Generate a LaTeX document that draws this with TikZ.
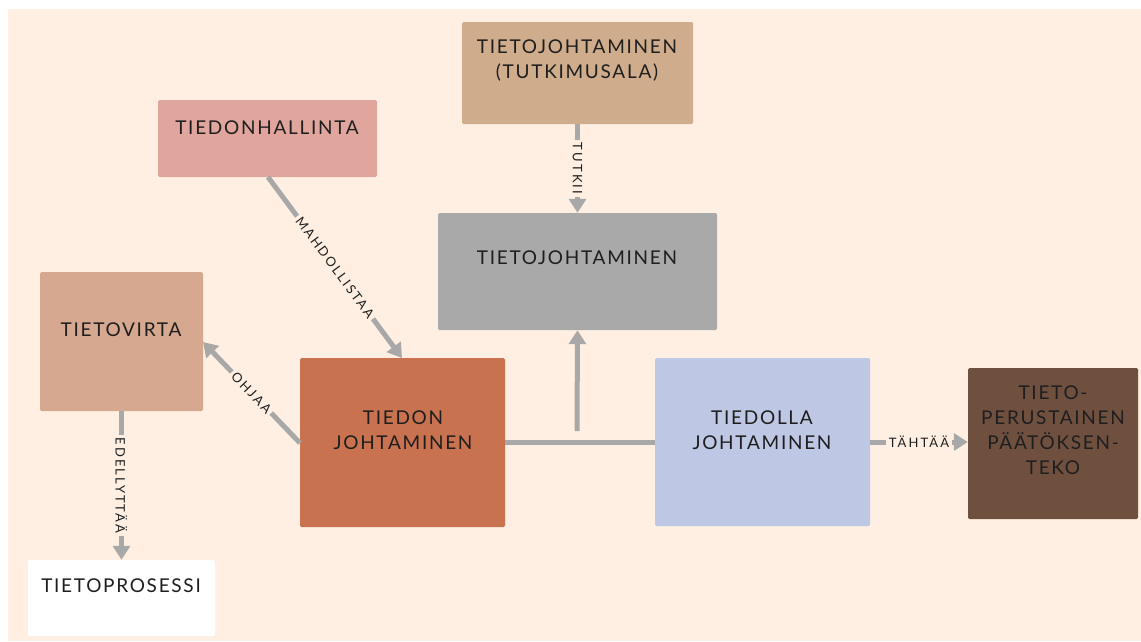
\documentclass[tikz,border=0pt]{standalone}
\usepackage{fontspec}
\setmainfont{Lato}
\newfontfamily\boxfont[LetterSpace=9]{Lato}
\newfontfamily\linkfont[LetterSpace=16]{Lato}
\usetikzlibrary{arrows.meta,calc}

\definecolor{bgpeach}{HTML}{FEEFE2}
\definecolor{tanbox}{HTML}{CFAD8C}
\definecolor{pinkbox}{HTML}{E0A59C}
\definecolor{graybox}{HTML}{A9A9A9}
\definecolor{flowbox}{HTML}{D5A88F}
\definecolor{rustbox}{HTML}{C8724F}
\definecolor{bluebox}{HTML}{BEC7E4}
\definecolor{brownbox}{HTML}{6F503F}
\definecolor{linkgray}{HTML}{A8A8A8}
\definecolor{ink}{HTML}{1E1E1E}

\tikzset{
  box/.style={rounded corners=1.5pt, inner sep=0pt, draw=none},
  boxtext/.style={text=ink, align=center, font=\boxfont\fontsize{19}{25}\selectfont, inner sep=0pt},
  link/.style={draw=linkgray, line width=5pt},
  arrowlink/.style={link, -{Triangle[width=17pt,length=14pt]}},
  linklabel/.style={sloped, fill=bgpeach, text=ink, inner sep=2.5pt, font=\linkfont\fontsize{13}{14}\selectfont}
}

\begin{document}
\begin{tikzpicture}[x=1pt,y=-1pt]
\useasboundingbox (0,0) rectangle (1141,641);
\fill[white] (0,0) rectangle (1141,641);
\fill[bgpeach] (8,9) rectangle (1141,641);

% boxes
\node[box, fill=tanbox,   minimum width=231pt, minimum height=102pt] (tutk)    at (577.5,73)   {};
\node[box, fill=pinkbox,  minimum width=219pt, minimum height=77pt]  (hall)    at (267.5,138.5) {};
\node[box, fill=graybox,  minimum width=279pt, minimum height=117pt] (tj)      at (577.5,271.5) {};
\node[box, fill=flowbox,  minimum width=163pt, minimum height=139pt] (virta)   at (121.5,341.5) {};
\node[box, fill=rustbox,  minimum width=205pt, minimum height=169pt] (tiedon)  at (402.5,442.5) {};
\node[box, fill=bluebox,  minimum width=215pt, minimum height=168pt] (tiedolla) at (762.5,442) {};
\node[box, fill=brownbox, minimum width=170pt, minimum height=151pt] (peru)    at (1053,443.5) {};
\node[box, fill=white,    minimum width=187pt, minimum height=76pt]  (proses)  at (121.5,598) {};

% box texts
\node[boxtext] (tutk-t)     at (577,61)   {TIETOJOHTAMINEN\\(TUTKIMUSALA)};
\node[boxtext] (hall-t)     at (267,128)  {TIEDONHALLINTA};
\node[boxtext] (tj-t)       at (577,258)  {TIETOJOHTAMINEN};
\node[boxtext] (virta-t)    at (121,330)  {TIETOVIRTA};
\node[boxtext] (tiedon-t)   at (403,430)  {TIEDON\\JOHTAMINEN};
\node[boxtext] (tiedolla-t) at (762,430)  {TIEDOLLA\\JOHTAMINEN};
\node[boxtext] (peru-t)     at (1053,430) {TIETO-\\PERUSTAINEN\\PÄÄTÖKSEN-\\TEKO};
\node[boxtext] (proses-t)   at (121,586)  {TIETOPROSESSI};

% connector end points on box edges
\coordinate (hall-out)   at (268,177);
\coordinate (tiedon-in)  at (402,358);
\coordinate (tiedon-out) at (300,443);
\coordinate (virta-in)   at (203,342);
\coordinate (stem)       at (577,431);

% connectors
\draw[arrowlink] (tutk.south) -- node[linklabel] {TUTKII} (tj.north);
\draw[arrowlink] (hall-out) -- node[linklabel] {MAHDOLLISTAA} (tiedon-in);
\draw[arrowlink] (tiedon-out) -- node[linklabel] {OHJAA} (virta-in);
\draw[arrowlink] (virta.south) -- node[linklabel] {EDELLYTTÄÄ} (proses.north);
\draw[link] (tiedon.east |- 0,442) -- (tiedolla.west |- 0,442);
\draw[arrowlink] (stem) -- (tj.south);
\draw[arrowlink] (tiedolla.east |- 0,442) -- node[linklabel] {TÄHTÄÄ} (peru.west |- 0,442);
\end{tikzpicture}
\end{document}
